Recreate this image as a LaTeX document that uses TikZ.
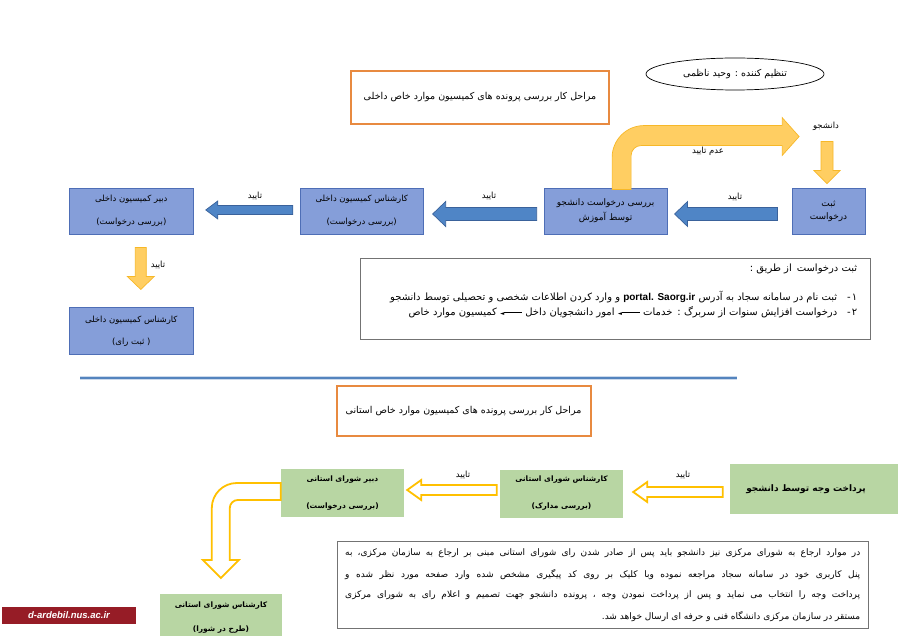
\documentclass[tikz,border=0pt]{standalone}
\usepackage{fontspec}
\usepackage{xcolor}
\usetikzlibrary{shapes.geometric, positioning, calc}
\TeXXeTstate=1
\newfontfamily\arabicfont[Script=Arabic]{DejaVu Sans}
\newfontfamily\latinfont{Liberation Sans}
\newfontfamily\glyphfont{DejaVu Sans}
\definecolor{boxblue}{RGB}{133,158,217}
\definecolor{boxblueline}{RGB}{78,110,182}
\definecolor{arrowblue}{RGB}{79,133,198}
\definecolor{arrowblueline}{RGB}{58,98,155}
\definecolor{gold}{RGB}{255,206,98}
\definecolor{goldline}{RGB}{247,184,40}
\definecolor{goldedge}{RGB}{255,192,0}
\definecolor{leaf}{RGB}{184,214,163}
\definecolor{titleorange}{RGB}{232,138,64}
\definecolor{rulerblue}{RGB}{84,132,190}
\definecolor{logored}{RGB}{150,28,38}
\newcommand{\fatext}[1]{\beginR#1\endR}
\newcommand{\ltrtext}[1]{\beginL{#1}\endL}
\newcommand{\listarrow}{\ltrtext{\raisebox{0.6pt}{\glyphfont\fontsize{5.5}{5.5}\selectfont ◄}\rule[3pt]{18pt}{0.6pt}}}

\begin{document}
\begin{tikzpicture}[
    x=1pt, y=-1pt,
    bluebox/.style={rectangle, draw=boxblueline, line width=0.9pt, fill=boxblue, minimum width=123pt, minimum height=46pt, inner sep=0pt, align=center, font=\arabicfont\fontsize{8.5}{23}\selectfont},
    greenbox/.style={rectangle, fill=leaf, minimum width=123pt, minimum height=48pt, inner sep=0pt, align=center, font=\arabicfont\bfseries\fontsize{7.5}{27}\selectfont},
    titlebox/.style={rectangle, draw=titleorange, line width=2pt, inner sep=0pt, font=\arabicfont\fontsize{9.5}{10}\selectfont},
    infobox/.style={rectangle, draw=black!55, line width=0.8pt, inner sep=0pt},
    infoline/.style={anchor=east, inner sep=0pt, font=\arabicfont\fontsize{9}{10}\selectfont},
    note/.style={inner sep=0pt, font=\arabicfont\fontsize{8.5}{9}\selectfont},
    bluearrow/.style={fill=arrowblue, draw=arrowblueline, line width=0.7pt},
    goldarrow/.style={fill=gold, draw=goldline, line width=0.7pt},
    hollowarrow/.style={fill=white, draw=goldedge, line width=1.8pt},
    leftblock/.style n args={3}{to path={let \p1=(\tikztostart), \p2=(\tikztotarget) in
        (\x1,\y1+#1) -- (\x2+#3,\y1+#1) -- (\x2+#3,\y1+#2) -- (\x2,\y1) -- (\x2+#3,\y1-#2) -- (\x2+#3,\y1-#1) -- (\x1,\y1-#1) -- cycle}},
    downblock/.style n args={3}{to path={let \p1=(\tikztostart), \p2=(\tikztotarget) in
        (\x1-#1,\y1) -- (\x1-#1,\y2+#3) -- (\x1-#2,\y2+#3) -- (\x1,\y2) -- (\x1+#2,\y2+#3) -- (\x1+#1,\y2+#3) -- (\x1+#1,\y1) -- cycle}}
]
\useasboundingbox (0,0) rectangle (900,636);
\fill[white] (0,0) rectangle (900,636);

% internal commission
\node[titlebox, minimum width=258pt, minimum height=53pt] (intitle) at (480,97.5) {\fatext{مراحل کار بررسی پرونده های کمیسیون موارد خاص داخلی}};
\node[ellipse, draw, line width=0.7pt, minimum width=178pt, minimum height=32pt, inner sep=0pt, font=\arabicfont\fontsize{9.5}{10}\selectfont] (editor) at (735,74) {\fatext{تنظیم کننده : وحید ناظمی}};

\node[bluebox, minimum width=73pt, font=\arabicfont\fontsize{9}{13}\selectfont] (sabt) at (828.5,211) {\fatext{ثبت}\\\fatext{درخواست}};
\node[bluebox, left=124pt of sabt, font=\arabicfont\fontsize{9}{15}\selectfont] (barresi) {\fatext{بررسی درخواست دانشجو}\\\fatext{توسط آموزش}};
\node[bluebox, left=120pt of barresi] (kar) {\fatext{کارشناس کمیسیون داخلی}\\\fatext{(بررسی درخواست)}};
\node[bluebox, minimum width=124pt, left=106pt of kar] (dabir) {\fatext{دبیر کمیسیون داخلی}\\\fatext{(بررسی درخواست)}};
\node[bluebox, minimum width=124pt, minimum height=47pt, below=73pt of dabir, font=\arabicfont\fontsize{8.5}{22}\selectfont] (rai) {\fatext{کارشناس کمیسیون داخلی}\\\fatext{( ثبت رای)}};

% arrows
\draw[goldarrow, downblock={6}{13}{13}] ($(sabt.north)+(-1.5,-46)$) to ($(sabt.north)+(-1.5,-4)$);
\draw[bluearrow, leftblock={6.5}{12.5}{13}] ($(sabt.west)+(-14,3)$) to ($(barresi.east)+(7,3)$);
\draw[bluearrow, leftblock={6.5}{12.5}{13}] ($(barresi.west)+(-7,3)$) to ($(kar.east)+(9,3)$);
\draw[bluearrow, leftblock={4.5}{9}{12}] ($(kar.west)+(-7,-1)$) to ($(dabir.east)+(12,-1)$);
\draw[goldarrow, downblock={5.5}{13.5}{13}] ($(dabir.south)+(9.5,13)$) to ($(rai.north)+(9.5,-18)$);
\draw[goldarrow] ($(barresi.north)+(6.5,2)$) -- ++(0,-32) arc[start angle=180, end angle=270, radius=32]
    -- ++(138,0) -- ++(0,-8) -- ++(17,19) -- ++(-17,19) -- ++(0,-10) -- ++(-141,0)
    arc[start angle=270, end angle=180, radius=10] -- ++(0,34) -- cycle;

\node[note] (student) at (826,126) {\fatext{دانشجو}};
\node[note] at (708,151) {\fatext{عدم تایید}};
\node[note] at (735,197) {\fatext{تایید}};
\node[note] at (489,196) {\fatext{تایید}};
\node[note] at (255,196) {\fatext{تایید}};
\node[note] at (158,265) {\fatext{تایید}};

% how to apply
\node[infobox, minimum width=510pt, minimum height=81pt] (howto) at (615,298.5) {};
\node[infoline, font=\arabicfont\fontsize{10}{11}\selectfont] (howto0) at ($(howto.north east)+(-13,11)$) {\fatext{ثبت درخواست\enspace از طریق :}};
\node[infoline, font=\arabicfont\fontsize{10}{11}\selectfont] (howto1) at ($(howto.north east)+(-13,39)$) {\fatext{۱\kern1pt-\quad ثبت نام در سامانه سجاد به آدرس \ltrtext{\latinfont\bfseries portal. Saorg.ir} و وارد کردن اطلاعات شخصی و تحصیلی توسط دانشجو}};
\node[infoline, font=\arabicfont\fontsize{10}{11}\selectfont] (howto2) at ($(howto.north east)+(-13,55)$) {\fatext{۲\kern1pt-\quad درخواست افزایش سنوات از سربرگ :\enspace خدمات \listarrow{} امور دانشجویان داخل \listarrow{} کمیسیون موارد خاص}};

\draw[rulerblue!30, line width=3.5pt] (80,378) -- (737,378);
\draw[rulerblue, line width=1.5pt] (80,378) -- (737,378);

% provincial council
\node[titlebox, minimum width=254pt, minimum height=50pt] (provtitle) at (463.5,411) {\fatext{مراحل کار بررسی پرونده های کمیسیون موارد خاص استانی}};

\node[greenbox, minimum width=168pt, minimum height=50pt, font=\arabicfont\bfseries\fontsize{9}{10}\selectfont] (pardakht) at (814,489) {\fatext{پرداخت وجه توسط دانشجو}\hspace*{16pt}};
\node[greenbox] (karost) at (561.5,493.5) {\fatext{کارشناس شورای استانی}\\\fatext{(بررسی مدارک)}};
\node[greenbox] (dabirost) at (342.5,493) {\fatext{دبیر شورای استانی}\\\fatext{(بررسی درخواست)}};
\node[greenbox, minimum width=122pt, font=\arabicfont\bfseries\fontsize{7.5}{24}\selectfont] (tarh) at (221,618) {\fatext{کارشناس شورای استانی}\\\fatext{(طرح در شورا)}};

\draw[hollowarrow, leftblock={5}{10}{14}] ($(pardakht.west)+(-7,3)$) to ($(karost.east)+(10,0)$);
\draw[hollowarrow, leftblock={5}{10}{14}] ($(karost.west)+(-3,-3.5)$) to ($(dabirost.east)+(3,0)$);
\draw[hollowarrow] ($(dabirost.west)+(0,-10)$) -- ++(-44,0) arc[start angle=270, end angle=180, radius=25]
    -- ++(0,52) -- ++(-9,0) -- ++(18,18) -- ++(18,-18) -- ++(-9,0) -- ++(0,-52)
    arc[start angle=180, end angle=270, radius=8] -- ++(43,0) -- cycle;

\node[note] at (683,475) {\fatext{تایید}};
\node[note] at (463,475) {\fatext{تایید}};

\node[infobox, minimum width=531pt, minimum height=87pt] (central) at (602.5,584.5) {};
\node[infoline] (central1) at ($(central.north east)+(-8,13)$) {\makebox[515pt][s]{\fatext{در موارد ارجاع به شورای مرکزی نیز دانشجو باید پس از صادر شدن رای شورای استانی مبنی بر ارجاع به سازمان مرکزی، به}}};
\node[infoline] (central2) at ($(central.north east)+(-8,34)$) {\makebox[515pt][s]{\fatext{پنل کاربری خود در سامانه سجاد مراجعه نموده وبا کلیک بر روی کد پیگیری مشخص شده وارد صفحه مورد نظر شده و}}};
\node[infoline] (central3) at ($(central.north east)+(-8,55)$) {\makebox[515pt][s]{\fatext{پرداخت وجه را انتخاب می نماید و پس از پرداخت نمودن وجه ، پرونده دانشجو جهت تصمیم و اعلام رای به شورای مرکزی}}};
\node[infoline] (central4) at ($(central.north east)+(-8,76)$) {\fatext{مستقر در سازمان مرکزی دانشگاه فنی و حرفه ای ارسال خواهد شد.}};

\node[fill=logored, text=white, minimum width=134pt, minimum height=17pt, inner sep=0pt, font=\latinfont\bfseries\itshape\fontsize{9.5}{10}\selectfont] (logo) at (69,615.5) {d-ardebil.nus.ac.ir};

\end{tikzpicture}
\end{document}
